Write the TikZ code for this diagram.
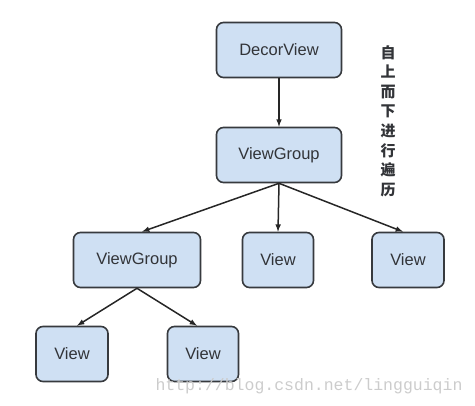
\documentclass[tikz,border=0pt]{standalone}
\usepackage{fontspec}
\setmainfont{Liberation Sans}
\newfontfamily\cjk{Noto Sans CJK SC}
\newfontfamily\wmfont{Liberation Mono}
\definecolor{boxfill}{RGB}{207,224,243}
\definecolor{boxline}{RGB}{55,58,62}
\definecolor{boxtext}{RGB}{50,52,56}
\tikzset{
  viewbox/.style={draw=boxline, fill=boxfill, line width=1.6pt, rounded corners=7pt,
    minimum height=55pt, inner sep=0pt, text=boxtext, font=\fontsize{16.5}{20}\selectfont},
  link/.style={-latex, line width=1.5pt, draw=black!85}
}
\begin{document}
\begin{tikzpicture}[x=1pt,y=-1pt]
    \useasboundingbox (0,0) rectangle (475,406);
    \node[viewbox, minimum width=125pt] (decor) at (279,50) {DecorView};
    \node[viewbox, minimum width=125pt] (group) at (279,155) {ViewGroup};
    \node[viewbox, minimum width=127pt] (subgroup) at (137,260) {ViewGroup};
    \node[viewbox, minimum width=71pt] (viewmid) at (278,260) {View};
    \node[viewbox, minimum width=72pt] (viewright) at (408,260) {View};
    \node[viewbox, minimum width=72pt] (leafa) at (72,354) {View};
    \node[viewbox, minimum width=71pt] (leafb) at (203,354) {View};
    % connectors
    \draw [link] (decor) -- (group);
    \draw [link] (group.south) -- ([xshift=5pt]subgroup.north);
    \draw [link] (group.south) -- (viewmid.north);
    \draw [link] (group.south) -- ([xshift=-5pt]viewright.north);
    \draw [link] (subgroup.south) -- ([xshift=5pt]leafa.north);
    \draw [link] (subgroup.south) -- ([xshift=-6pt]leafb.north);
    % side note
    \node[font=\cjk\bfseries\fontsize{15}{19.6}\selectfont, align=center, text=boxtext] (note) at (388,121)
      {自\\上\\而\\下\\进\\行\\遍\\历};
    % watermark
    \node[font=\wmfont\fontsize{16.5}{20}\selectfont, text=black!20] (mark) at (309,386)
      {http://blog.csdn.net/lingguiqin};
\end{tikzpicture}
\end{document}
